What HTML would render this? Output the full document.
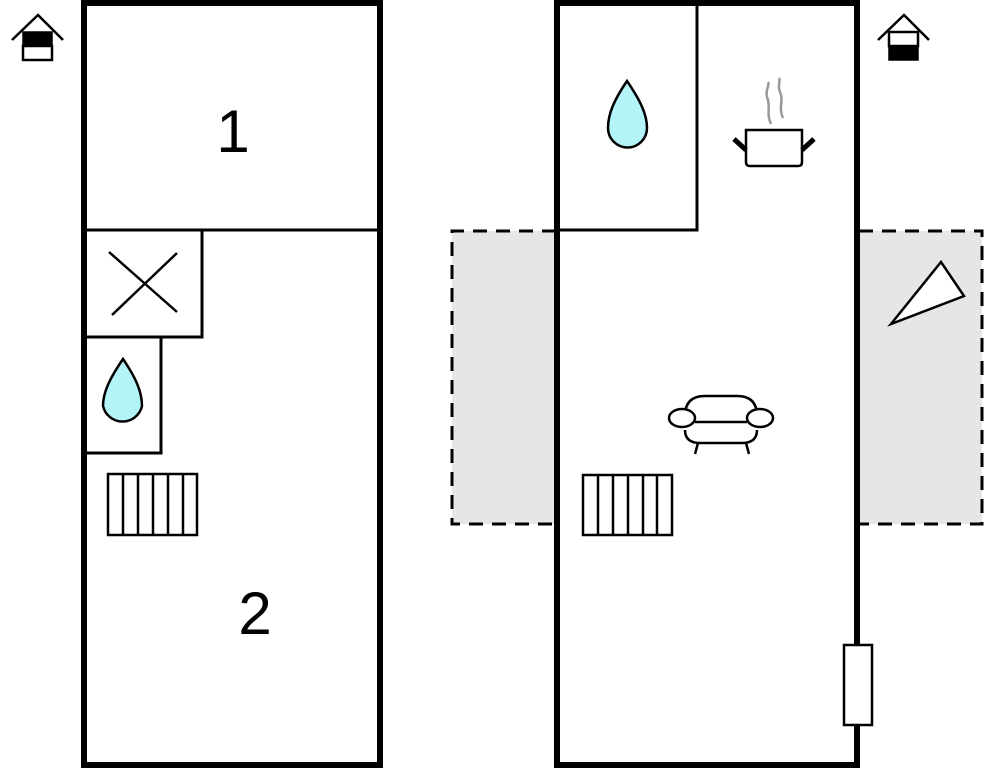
<!DOCTYPE html>
<html><head><meta charset="utf-8"><style>html,body{margin:0;padding:0;background:#fff;width:985px;height:768px;overflow:hidden}</style></head>
<body>
<svg width="985" height="768" viewBox="0 0 985 768" xmlns="http://www.w3.org/2000/svg" fill="none" stroke="#000">
<!-- gray dashed areas -->
<rect x="452" y="231" width="104" height="293" fill="#e6e6e6" stroke="none"/>
<rect x="859" y="231" width="123" height="293" fill="#e6e6e6" stroke="none"/>
<path d="M556 231 H452 V524 H556" stroke-width="3" stroke-dasharray="14 9"/>
<path d="M859 231 H982 V524 H859" stroke-width="3" stroke-dasharray="14 9"/>

<!-- left plan -->
<rect x="84" y="3" width="296" height="762" stroke-width="6" fill="none"/>
<line x1="84" y1="230" x2="380" y2="230" stroke-width="3"/>
<path d="M86 230 H202 V337 H86" stroke-width="3"/>
<path d="M86 337 H161 V453 H86" stroke-width="3"/>
<line x1="109" y1="252" x2="177" y2="312" stroke-width="2.5"/>
<line x1="177" y1="253" x2="112" y2="315" stroke-width="2.5"/>
<path d="M123 359 C110 378 103 392 103 406 A20 20 0 0 0 142 406 C142 392 136 378 123 359 Z" fill="#b2f4f8" stroke-width="2.5"/>
<rect x="108" y="474" width="89" height="61" stroke-width="2.5"/>
<path d="M123 474V535M138 474V535M153 474V535M168 474V535M183 474V535" stroke-width="2.5"/>
<text x="233" y="152" font-family="Liberation Sans, sans-serif" font-size="60" fill="#000" stroke="none" text-anchor="middle">1</text>
<text x="255" y="634" font-family="Liberation Sans, sans-serif" font-size="60" fill="#000" stroke="none" text-anchor="middle">2</text>

<!-- left house icon -->
<path d="M12 40 L38 15 L63 40" stroke-width="2.5"/>
<rect x="23" y="32" width="29" height="14" fill="#000" stroke="#000" stroke-width="1.5"/>
<rect x="23" y="46" width="29" height="14" fill="#fff" stroke-width="2.5"/>

<!-- right plan -->
<rect x="557" y="3" width="300" height="762" stroke-width="6" fill="#fff"/>
<path d="M559 230 H697 V5" stroke-width="3"/>
<path d="M627 81 C614 100 608 114 608 128 A19.5 19.5 0 0 0 647 128 C647 114 640 100 627 81 Z" fill="#b2f4f8" stroke-width="2.5"/>
<!-- pot -->
<path d="M771 124 C766 114 771 106 767 97 C765 90 770 85 768 82" stroke="#999" stroke-width="2.5"/>
<path d="M783 118 C778 108 784 100 780 92 C777 85 781 81 779 78" stroke="#999" stroke-width="2.5"/>
<path d="M746 130 H802 V162 Q802 166 798 166 H750 Q746 166 746 162 Z" stroke-width="2.5"/>
<path d="M734 139 L746 150 M814 139 L802 150" stroke-width="5"/>
<!-- sofa -->
<path d="M685 416 Q685 396 705 396 H737 Q757 396 757 416" stroke-width="2.5"/>
<path d="M685 430 Q685 443 700 443 H742 Q757 443 757 430" stroke-width="2.5"/>
<ellipse cx="682" cy="418" rx="13" ry="9" fill="#fff" stroke-width="2.5"/>
<ellipse cx="760" cy="418" rx="13" ry="9" fill="#fff" stroke-width="2.5"/>
<line x1="695" y1="422" x2="747" y2="422" stroke-width="2.5"/>
<path d="M698 443 L695 454 M746 443 L749 454" stroke-width="2.5"/>
<!-- radiator -->
<rect x="583" y="475" width="89" height="60" stroke-width="2.5"/>
<path d="M598 475V535M613 475V535M628 475V535M643 475V535M657 475V535" stroke-width="2.5"/>
<!-- door -->
<rect x="844" y="645" width="28" height="80" fill="#fff" stroke-width="2.5"/>
<!-- triangle -->
<path d="M941 262 L964 296 L891 324 Z" fill="#fff" stroke-width="2.5"/>
<!-- right house icon -->
<path d="M878 40 L904 15 L929 40" stroke-width="2.5"/>
<rect x="889" y="32" width="29" height="14" fill="#fff" stroke-width="2.5"/>
<rect x="889" y="46" width="29" height="14" fill="#000" stroke="#000" stroke-width="1.5"/>
</svg>
</body></html>
